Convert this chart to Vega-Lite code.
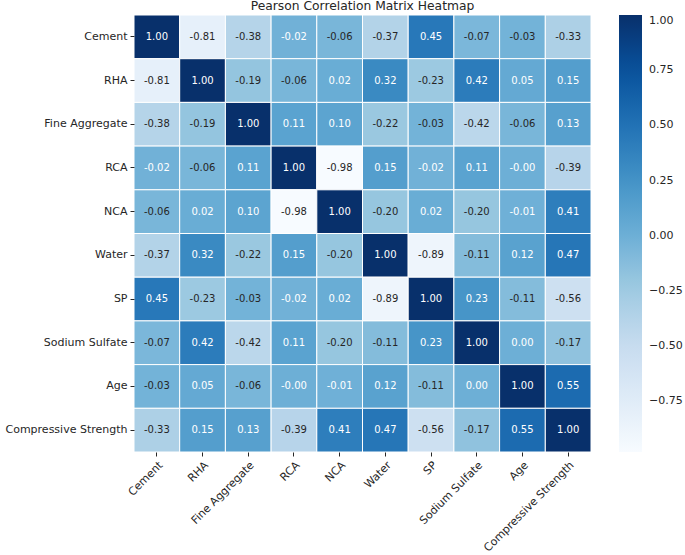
{
  "$schema": "https://vega.github.io/schema/vega-lite/v6.json",
  "width": 457,
  "height": 437,
  "autosize": "none",
  "padding": {"left": 134, "top": 15, "right": 94, "bottom": 103},
  "title": {"text": "Pearson Correlation Matrix Heatmap", "font": "DejaVu Sans", "fontSize": 12.3, "fontWeight": "normal", "color": "#262626", "offset": 2},
  "config": {"view": {"stroke": null}, "font": "DejaVu Sans"},
  "data": {"values": [
    {"row":"Cement","col":"Cement","value":1.00,"label":"1.00"},
    {"row":"Cement","col":"RHA","value":-0.81,"label":"-0.81"},
    {"row":"Cement","col":"Fine Aggregate","value":-0.38,"label":"-0.38"},
    {"row":"Cement","col":"RCA","value":-0.02,"label":"-0.02"},
    {"row":"Cement","col":"NCA","value":-0.06,"label":"-0.06"},
    {"row":"Cement","col":"Water","value":-0.37,"label":"-0.37"},
    {"row":"Cement","col":"SP","value":0.45,"label":"0.45"},
    {"row":"Cement","col":"Sodium Sulfate","value":-0.07,"label":"-0.07"},
    {"row":"Cement","col":"Age","value":-0.03,"label":"-0.03"},
    {"row":"Cement","col":"Compressive Strength","value":-0.33,"label":"-0.33"},
    {"row":"RHA","col":"Cement","value":-0.81,"label":"-0.81"},
    {"row":"RHA","col":"RHA","value":1.00,"label":"1.00"},
    {"row":"RHA","col":"Fine Aggregate","value":-0.19,"label":"-0.19"},
    {"row":"RHA","col":"RCA","value":-0.06,"label":"-0.06"},
    {"row":"RHA","col":"NCA","value":0.02,"label":"0.02"},
    {"row":"RHA","col":"Water","value":0.32,"label":"0.32"},
    {"row":"RHA","col":"SP","value":-0.23,"label":"-0.23"},
    {"row":"RHA","col":"Sodium Sulfate","value":0.42,"label":"0.42"},
    {"row":"RHA","col":"Age","value":0.05,"label":"0.05"},
    {"row":"RHA","col":"Compressive Strength","value":0.15,"label":"0.15"},
    {"row":"Fine Aggregate","col":"Cement","value":-0.38,"label":"-0.38"},
    {"row":"Fine Aggregate","col":"RHA","value":-0.19,"label":"-0.19"},
    {"row":"Fine Aggregate","col":"Fine Aggregate","value":1.00,"label":"1.00"},
    {"row":"Fine Aggregate","col":"RCA","value":0.11,"label":"0.11"},
    {"row":"Fine Aggregate","col":"NCA","value":0.10,"label":"0.10"},
    {"row":"Fine Aggregate","col":"Water","value":-0.22,"label":"-0.22"},
    {"row":"Fine Aggregate","col":"SP","value":-0.03,"label":"-0.03"},
    {"row":"Fine Aggregate","col":"Sodium Sulfate","value":-0.42,"label":"-0.42"},
    {"row":"Fine Aggregate","col":"Age","value":-0.06,"label":"-0.06"},
    {"row":"Fine Aggregate","col":"Compressive Strength","value":0.13,"label":"0.13"},
    {"row":"RCA","col":"Cement","value":-0.02,"label":"-0.02"},
    {"row":"RCA","col":"RHA","value":-0.06,"label":"-0.06"},
    {"row":"RCA","col":"Fine Aggregate","value":0.11,"label":"0.11"},
    {"row":"RCA","col":"RCA","value":1.00,"label":"1.00"},
    {"row":"RCA","col":"NCA","value":-0.98,"label":"-0.98"},
    {"row":"RCA","col":"Water","value":0.15,"label":"0.15"},
    {"row":"RCA","col":"SP","value":-0.02,"label":"-0.02"},
    {"row":"RCA","col":"Sodium Sulfate","value":0.11,"label":"0.11"},
    {"row":"RCA","col":"Age","value":-0.001,"label":"-0.00"},
    {"row":"RCA","col":"Compressive Strength","value":-0.39,"label":"-0.39"},
    {"row":"NCA","col":"Cement","value":-0.06,"label":"-0.06"},
    {"row":"NCA","col":"RHA","value":0.02,"label":"0.02"},
    {"row":"NCA","col":"Fine Aggregate","value":0.10,"label":"0.10"},
    {"row":"NCA","col":"RCA","value":-0.98,"label":"-0.98"},
    {"row":"NCA","col":"NCA","value":1.00,"label":"1.00"},
    {"row":"NCA","col":"Water","value":-0.20,"label":"-0.20"},
    {"row":"NCA","col":"SP","value":0.02,"label":"0.02"},
    {"row":"NCA","col":"Sodium Sulfate","value":-0.20,"label":"-0.20"},
    {"row":"NCA","col":"Age","value":-0.01,"label":"-0.01"},
    {"row":"NCA","col":"Compressive Strength","value":0.41,"label":"0.41"},
    {"row":"Water","col":"Cement","value":-0.37,"label":"-0.37"},
    {"row":"Water","col":"RHA","value":0.32,"label":"0.32"},
    {"row":"Water","col":"Fine Aggregate","value":-0.22,"label":"-0.22"},
    {"row":"Water","col":"RCA","value":0.15,"label":"0.15"},
    {"row":"Water","col":"NCA","value":-0.20,"label":"-0.20"},
    {"row":"Water","col":"Water","value":1.00,"label":"1.00"},
    {"row":"Water","col":"SP","value":-0.89,"label":"-0.89"},
    {"row":"Water","col":"Sodium Sulfate","value":-0.11,"label":"-0.11"},
    {"row":"Water","col":"Age","value":0.12,"label":"0.12"},
    {"row":"Water","col":"Compressive Strength","value":0.47,"label":"0.47"},
    {"row":"SP","col":"Cement","value":0.45,"label":"0.45"},
    {"row":"SP","col":"RHA","value":-0.23,"label":"-0.23"},
    {"row":"SP","col":"Fine Aggregate","value":-0.03,"label":"-0.03"},
    {"row":"SP","col":"RCA","value":-0.02,"label":"-0.02"},
    {"row":"SP","col":"NCA","value":0.02,"label":"0.02"},
    {"row":"SP","col":"Water","value":-0.89,"label":"-0.89"},
    {"row":"SP","col":"SP","value":1.00,"label":"1.00"},
    {"row":"SP","col":"Sodium Sulfate","value":0.23,"label":"0.23"},
    {"row":"SP","col":"Age","value":-0.11,"label":"-0.11"},
    {"row":"SP","col":"Compressive Strength","value":-0.56,"label":"-0.56"},
    {"row":"Sodium Sulfate","col":"Cement","value":-0.07,"label":"-0.07"},
    {"row":"Sodium Sulfate","col":"RHA","value":0.42,"label":"0.42"},
    {"row":"Sodium Sulfate","col":"Fine Aggregate","value":-0.42,"label":"-0.42"},
    {"row":"Sodium Sulfate","col":"RCA","value":0.11,"label":"0.11"},
    {"row":"Sodium Sulfate","col":"NCA","value":-0.20,"label":"-0.20"},
    {"row":"Sodium Sulfate","col":"Water","value":-0.11,"label":"-0.11"},
    {"row":"Sodium Sulfate","col":"SP","value":0.23,"label":"0.23"},
    {"row":"Sodium Sulfate","col":"Sodium Sulfate","value":1.00,"label":"1.00"},
    {"row":"Sodium Sulfate","col":"Age","value":0.00,"label":"0.00"},
    {"row":"Sodium Sulfate","col":"Compressive Strength","value":-0.17,"label":"-0.17"},
    {"row":"Age","col":"Cement","value":-0.03,"label":"-0.03"},
    {"row":"Age","col":"RHA","value":0.05,"label":"0.05"},
    {"row":"Age","col":"Fine Aggregate","value":-0.06,"label":"-0.06"},
    {"row":"Age","col":"RCA","value":-0.001,"label":"-0.00"},
    {"row":"Age","col":"NCA","value":-0.01,"label":"-0.01"},
    {"row":"Age","col":"Water","value":0.12,"label":"0.12"},
    {"row":"Age","col":"SP","value":-0.11,"label":"-0.11"},
    {"row":"Age","col":"Sodium Sulfate","value":0.00,"label":"0.00"},
    {"row":"Age","col":"Age","value":1.00,"label":"1.00"},
    {"row":"Age","col":"Compressive Strength","value":0.55,"label":"0.55"},
    {"row":"Compressive Strength","col":"Cement","value":-0.33,"label":"-0.33"},
    {"row":"Compressive Strength","col":"RHA","value":0.15,"label":"0.15"},
    {"row":"Compressive Strength","col":"Fine Aggregate","value":0.13,"label":"0.13"},
    {"row":"Compressive Strength","col":"RCA","value":-0.39,"label":"-0.39"},
    {"row":"Compressive Strength","col":"NCA","value":0.41,"label":"0.41"},
    {"row":"Compressive Strength","col":"Water","value":0.47,"label":"0.47"},
    {"row":"Compressive Strength","col":"SP","value":-0.56,"label":"-0.56"},
    {"row":"Compressive Strength","col":"Sodium Sulfate","value":-0.17,"label":"-0.17"},
    {"row":"Compressive Strength","col":"Age","value":0.55,"label":"0.55"},
    {"row":"Compressive Strength","col":"Compressive Strength","value":1.00,"label":"1.00"}
  ]},
  "encoding": {
    "x": {"field": "col", "type": "nominal", "sort": null,
      "scale": {"domain": ["Cement","RHA","Fine Aggregate","RCA","NCA","Water","SP","Sodium Sulfate","Age","Compressive Strength"]},
      "axis": {"title": null, "labelAngle": -45, "labelAlign": "right", "labelBaseline": "top", "labelFontSize": 11, "labelColor": "#262626", "labelFont": "DejaVu Sans", "domain": false, "tickSize": 4, "tickColor": "#262626", "labelPadding": 3}},
    "y": {"field": "row", "type": "nominal", "sort": null,
      "scale": {"domain": ["Cement","RHA","Fine Aggregate","RCA","NCA","Water","SP","Sodium Sulfate","Age","Compressive Strength"]},
      "axis": {"title": null, "labelFontSize": 11, "labelColor": "#262626", "labelFont": "DejaVu Sans", "domain": false, "tickSize": 4, "tickColor": "#262626", "labelPadding": 3}}
  },
  "layer": [
    {"mark": {"type": "rect", "stroke": "white", "strokeWidth": 1},
     "encoding": {"color": {"field": "value", "type": "quantitative",
       "scale": {"domain": [-0.98, -0.7325, -0.485, -0.2375, 0.01, 0.2575, 0.505, 0.7525, 1.0],
                 "range": ["#f7fbff","#deebf7","#c6dbef","#9ecae1","#6baed6","#4292c6","#2171b5","#08519c","#08306b"],
                 "interpolate": "rgb"},
       "legend": {"title": null, "orient": "right", "offset": 28, "padding": 0, "direction": "vertical",
         "gradientLength": 437, "gradientThickness": 23, "gradientStrokeWidth": 0,
         "values": [-0.75, -0.5, -0.25, 0, 0.25, 0.5, 0.75, 1.0], "format": ".2f",
         "labelFontSize": 11, "labelColor": "#262626", "labelFont": "DejaVu Sans", "labelOffset": 7, "labelOverlap": false}}}},
    {"mark": {"type": "text", "fontSize": 10, "font": "DejaVu Sans"},
     "encoding": {"text": {"field": "label", "type": "nominal"},
       "color": {"condition": {"test": "datum.value > -0.025", "value": "white"}, "value": "#262626"}}}
  ]
}
